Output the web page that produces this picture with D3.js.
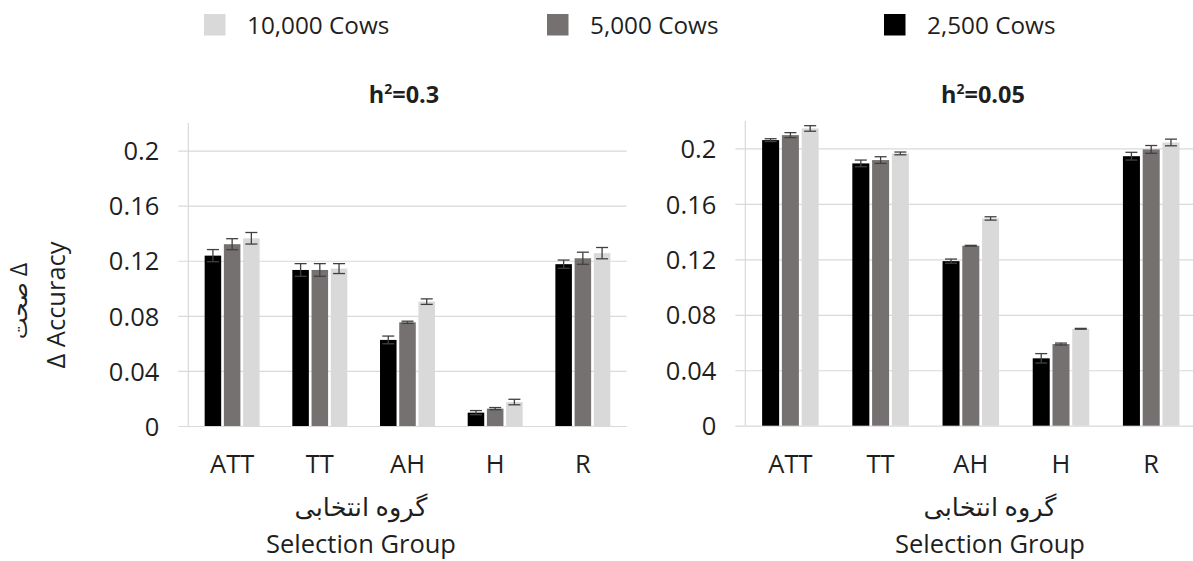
<!DOCTYPE html>
<html>
<head>
<meta charset="utf-8">
<script src="https://cdn.jsdelivr.net/npm/d3@7"></script>
<style>
  body { margin: 0; background: #fff; }
  svg { display: block; }
  text { font-family: "Open Sans", "DejaVu Sans", sans-serif; fill: #1f1f1f; }
</style>
</head>
<body>
<svg id="chart" width="1193" height="561"></svg>
<script>
// ---- data ----
const categories = ["ATT", "TT", "AH", "H", "R"];
const seriesNames = ["2,500 Cows", "5,000 Cows", "10,000 Cows"];
const legendOrder = ["10,000 Cows", "5,000 Cows", "2,500 Cows"];
const yTicks = [0, 0.04, 0.08, 0.12, 0.16, 0.2];
const panelTitles = ["0.3", "0.05"];

// h2 = 0.3
const h03_cows2500 = [0.1237, 0.1133, 0.0625, 0.0097, 0.1175];
const h03_cows5000 = [0.1320, 0.1133, 0.0753, 0.0126, 0.1218];
const h03_cows10000 = [0.1363, 0.1143, 0.0903, 0.0174, 0.1255];
const h03_err2500 = [0.0044, 0.0046, 0.0028, 0.0015, 0.0030];
const h03_err5000 = [0.0040, 0.0046, 0.0008, 0.0008, 0.0044];
const h03_err10000 = [0.0042, 0.0036, 0.0020, 0.0020, 0.0041];

// h2 = 0.05
const h005_cows2500 = [0.2060, 0.1892, 0.1187, 0.0486, 0.1944];
const h005_cows5000 = [0.2096, 0.1916, 0.1298, 0.0589, 0.1993];
const h005_cows10000 = [0.2144, 0.1964, 0.1495, 0.0699, 0.2043];
const h005_err2500 = [0.0010, 0.0024, 0.0015, 0.0034, 0.0028];
const h005_err5000 = [0.0018, 0.0024, 0.0003, 0.0007, 0.0028];
const h005_err10000 = [0.0020, 0.0010, 0.0012, 0.0003, 0.0024];

// ---- styling / layout ----
const colors = { "2,500 Cows": "#000000", "5,000 Cows": "#767171", "10,000 Cows": "#d9d9d9" };
const gridColor = "#d9d9d9";
const errColor = "#404040";

const panels = [
  { title: panelTitles[0], values: [h03_cows2500, h03_cows5000, h03_cows10000],
    errs: [h03_err2500, h03_err5000, h03_err10000],
    left: 188.3, right: 626.7, zero: 426, top: 123, titleX: 404, xTitleX: 361 },
  { title: panelTitles[1], values: [h005_cows2500, h005_cows5000, h005_cows10000],
    errs: [h005_err2500, h005_err5000, h005_err10000],
    left: 745.3, right: 1196.3, zero: 425.7, top: 120.7, titleX: 983, xTitleX: 990 }
];

const svg = d3.select("#chart");

// legend
const legendX = [204, 547, 884];
const legend = svg.append("g");
legendOrder.forEach((name, i) => {
  const g = legend.append("g").attr("transform", `translate(${legendX[i]},0)`);
  g.append("rect").attr("x", 0).attr("y", 14).attr("width", 21.5).attr("height", 21.5)
    .attr("fill", colors[name]);
  g.append("text").attr("x", 43).attr("y", 33.5).attr("font-size", 24.3).text(name);
});

panels.forEach(p => {
  const g = svg.append("g");
  const y = d3.scaleLinear().domain([0, 0.22]).range([p.zero, p.top]);
  const x = d3.scaleBand().domain(categories).range([p.left, p.right])
    .paddingInner(0.373).paddingOuter(0.1865);
  const xs = d3.scaleBand().domain(seriesNames).range([0, x.bandwidth()]).paddingInner(0.14);

  // gridlines and y axis
  const yAxis = d3.axisLeft(y).tickValues(yTicks).tickSize(-(p.right - p.left))
    .tickFormat(d => d3.format("")(+d.toFixed(2)));
  const ya = g.append("g").attr("transform", `translate(${p.left},0)`).call(yAxis);
  ya.select(".domain").remove();
  ya.selectAll(".tick line").attr("stroke", gridColor).attr("stroke-width", 1.2)
    .attr("x1", -10);
  ya.selectAll(".tick text").attr("x", -29).attr("font-size", 25.5)
    .attr("fill", "#1f1f1f").attr("dy", "0.36em");
  // vertical axis line
  g.append("line").attr("x1", p.left).attr("x2", p.left).attr("y1", p.top).attr("y2", p.zero)
    .attr("stroke", gridColor).attr("stroke-width", 1.2);

  // bars
  seriesNames.forEach((s, si) => {
    const vals = p.values[si];
    const errs = p.errs[si];
    g.append("g").selectAll("rect").data(categories).join("rect")
      .attr("x", c => x(c) + xs(s))
      .attr("y", (c, ci) => y(vals[ci]))
      .attr("width", xs.bandwidth())
      .attr("height", (c, ci) => y(0) - y(vals[ci]))
      .attr("fill", colors[s]);
    // error bars
    const eg = g.append("g").attr("stroke", errColor).attr("stroke-width", 1.3).attr("fill", "none");
    categories.forEach((c, ci) => {
      const cx = x(c) + xs(s) + xs.bandwidth() / 2;
      const hi = y(vals[ci] + errs[ci]), lo = y(vals[ci] - errs[ci]);
      eg.append("line").attr("x1", cx).attr("x2", cx).attr("y1", hi).attr("y2", lo);
      eg.append("line").attr("x1", cx - 6).attr("x2", cx + 6).attr("y1", hi).attr("y2", hi);
      eg.append("line").attr("x1", cx - 6).attr("x2", cx + 6).attr("y1", lo).attr("y2", lo);
    });
  });

  // x axis labels
  const xAxis = d3.axisBottom(x).tickSize(0).tickPadding(0);
  const xa = g.append("g").attr("transform", `translate(0,${p.zero})`).call(xAxis);
  xa.select(".domain").remove();
  xa.selectAll(".tick text").attr("y", 47.3).attr("dy", 0).attr("font-size", 25.5)
    .attr("fill", "#1f1f1f");

  // panel title
  const t = g.append("text").attr("x", p.titleX).attr("y", 103).attr("text-anchor", "middle")
    .attr("font-size", 23.5).attr("font-weight", "bold");
  t.append("tspan").text("h");
  t.append("tspan").attr("font-size", 14).attr("dy", -9).text("2");
  t.append("tspan").attr("dy", 9).text("=" + p.title);

  // x axis title
  g.append("text").attr("x", p.xTitleX).attr("y", 516).attr("text-anchor", "middle")
    .attr("font-size", 25.5).text("گروه انتخابی");
  g.append("text").attr("x", p.xTitleX).attr("y", 553).attr("text-anchor", "middle")
    .attr("font-size", 25.5).text("Selection Group");
});

// y axis title (left panel)
svg.append("text").attr("transform", "translate(27,301) rotate(-90)").attr("text-anchor", "middle")
  .attr("font-size", 23).text("صحت Δ");
svg.append("text").attr("transform", "translate(65,305) rotate(-90)").attr("text-anchor", "middle")
  .attr("font-size", 25.5).text("Δ Accuracy");
</script>
</body>
</html>
